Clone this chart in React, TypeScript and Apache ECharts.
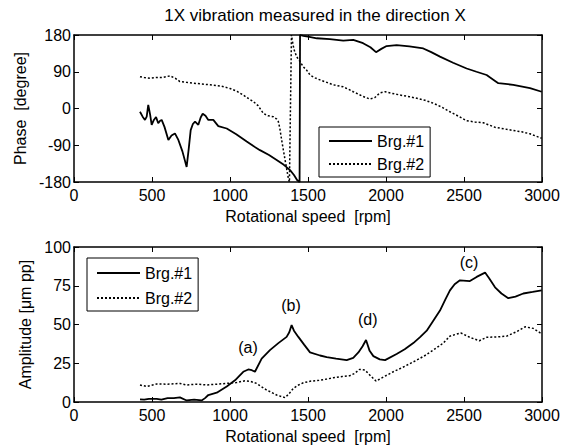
import React, { useEffect, useRef } from "react";
import * as echarts from "echarts";

const FONT = "'Liberation Sans', Arial, sans-serif";

const titleText = "1X vibration measured in the direction X";
const xName = "Rotational speed  [rpm]";
const phaseName = "Phase  [degree]";
const ampName = "Amplitude [μm pp]";
const seriesNames = ["Brg.#1", "Brg.#2"];

// Phase, Brg.#1
const phase1Rpm = [423, 440, 455, 466, 476, 488, 498, 512, 526, 540, 552, 562, 580, 605, 625, 647, 669, 695, 722, 735, 748, 762, 776, 797, 812, 825, 843, 861, 893, 925, 979, 1040, 1107, 1150, 1192, 1250, 1299, 1345, 1385, 1410, 1430, 1446, 1449, 1470, 1500, 1556, 1640, 1726, 1790, 1853, 1900, 1936, 1970, 2004, 2068, 2150, 2239, 2290, 2346, 2430, 2517, 2580, 2645, 2690, 2720, 2816, 2923, 2998];
const phase1Deg = [-8, -20, -28, -20, 9, -15, -40, -28, -21, -36, -30, -28, -45, -77, -66, -61, -77, -105, -143, -100, -53, -38, -32, -40, -22, -13, -18, -28, -28, -43, -49, -63, -81, -92, -102, -114, -126, -138, -151, -163, -175, -180, 180, 178, 176, 172, 170, 166, 168, 160, 150, 138, 146, 153, 155, 152, 147, 138, 127, 112, 98, 90, 82, 70, 62, 58, 50, 41];

// Phase, Brg.#2
const phase2Rpm = [423, 450, 487, 530, 570, 615, 650, 679, 720, 765, 820, 872, 940, 1000, 1045, 1085, 1120, 1150, 1180, 1214, 1245, 1278, 1300, 1310, 1320, 1331, 1353, 1374, 1381, 1394, 1400, 1410, 1427, 1449, 1470, 1491, 1513, 1545, 1577, 1620, 1662, 1726, 1760, 1790, 1850, 1897, 1929, 1960, 1994, 2040, 2090, 2150, 2197, 2250, 2303, 2360, 2410, 2470, 2517, 2570, 2624, 2699, 2760, 2816, 2870, 2923, 2998];
const phase2Deg = [78, 76, 74, 76, 76, 80, 74, 66, 64, 62, 60, 58, 55, 49, 42, 33, 24, 17, 7, -12, -18, -20, -26, -32, -50, -77, -126, -171, -180, 180, 165, 145, 127, 115, 102, 94, 82, 75, 70, 64, 58, 53, 47, 41, 30, 23, 27, 38, 41, 37, 33, 29, 25, 20, 13, 3, -8, -20, -30, -33, -35, -46, -50, -54, -57, -62, -73];

// Amplitude, Brg.#1
const amp1Rpm = [423, 450, 480, 530, 560, 600, 640, 679, 722, 770, 818, 840, 861, 915, 979, 1032, 1085, 1117, 1140, 1160, 1203, 1256, 1310, 1363, 1380, 1395, 1410, 1438, 1475, 1513, 1577, 1620, 1680, 1748, 1790, 1823, 1850, 1872, 1895, 1919, 1960, 1994, 2068, 2120, 2175, 2220, 2261, 2300, 2346, 2380, 2410, 2440, 2474, 2538, 2581, 2635, 2660, 2699, 2740, 2784, 2830, 2880, 2940, 2998];
const amp1Val = [1.7, 1.5, 2, 2, 1.5, 2.5, 2.5, 3, 1, 1.5, 1, 2.5, 4.5, 6, 10, 14, 19.5, 21, 20.5, 19.5, 28, 33.5, 38, 42, 45, 49.6, 46, 42, 37, 32, 30, 29, 28, 27, 28.5, 32, 36, 40, 33, 29.6, 27.5, 27, 31, 34, 38, 42, 46, 52, 59, 66, 72, 76, 78.5, 78, 80.7, 83.5, 80, 74, 70, 67, 68, 70, 71, 72];

// Amplitude, Brg.#2
const amp2Rpm = [423, 466, 530, 600, 679, 722, 790, 850, 920, 979, 1040, 1096, 1130, 1170, 1200, 1235, 1270, 1299, 1330, 1353, 1380, 1406, 1440, 1470, 1520, 1577, 1620, 1662, 1720, 1769, 1800, 1829, 1865, 1900, 1936, 1990, 2047, 2120, 2197, 2250, 2303, 2367, 2410, 2479, 2538, 2598, 2645, 2710, 2774, 2840, 2891, 2944, 2998];
const amp2Val = [11, 10, 11.6, 11.5, 12, 11, 11.5, 11, 11.5, 12, 12.5, 13.7, 13.3, 12, 10, 7.7, 6, 4.5, 3.5, 2.8, 5.5, 8.8, 11, 12.4, 13.5, 14, 14.8, 15.6, 16.5, 17, 18.5, 21, 20.6, 17, 13.5, 16.5, 19.5, 23, 27, 30, 33.5, 38, 42.5, 44.6, 41.7, 39.5, 41.7, 42, 42.5, 45.5, 48.5, 47.5, 44];

// Peak annotations on the amplitude plot
const noteLabels = ["(a)", "(b)", "(d)", "(c)"];
const noteRpm = [1115, 1391, 1883, 2532];
const noteAmp = [35, 62, 53, 90];

const zip = (xs: number[], ys: number[]) => xs.map((x, i) => [x, ys[i]]);

export default function App() {
  const ref = useRef<HTMLDivElement>(null);

  useEffect(() => {
    if (!ref.current) return;
    const chart = echarts.init(ref.current, null, { renderer: "svg" });

    const black = "#000";
    const textBase = { color: black, fontSize: 16, fontFamily: FONT };
    const plain = (v: number) => String(v);

    const mkX = (grid: number, pos: "bottom" | "top", labeled: boolean) => ({
      type: "value",
      gridIndex: grid,
      position: pos,
      min: 0,
      max: 3000,
      interval: 500,
      axisLine: { show: true, onZero: false, lineStyle: { color: black, width: 1.5 } },
      axisTick: { show: true, inside: true, length: 5, lineStyle: { color: black, width: 1 } },
      axisLabel: { show: labeled, margin: 5, formatter: plain, ...textBase },
      splitLine: { show: false },
      name: labeled ? xName : "",
      nameLocation: "middle",
      nameGap: 26,
      nameTextStyle: textBase,
    });

    const mkY = (
      grid: number,
      pos: "left" | "right",
      labeled: boolean,
      min: number,
      max: number,
      interval: number,
      name: string,
      gap: number
    ) => ({
      type: "value",
      gridIndex: grid,
      position: pos,
      min,
      max,
      interval,
      axisLine: { show: true, onZero: false, lineStyle: { color: black, width: 1.5 } },
      axisTick: { show: true, inside: true, length: 5, lineStyle: { color: black, width: 1 } },
      axisLabel: { show: labeled, margin: 3, formatter: plain, ...textBase },
      splitLine: { show: false },
      name: labeled ? name : "",
      nameLocation: "middle",
      nameGap: gap,
      nameTextStyle: textBase,
    });

    const solid = { color: black, width: 1.8, type: "solid" };
    const dotted = { color: black, width: 1.5, type: [2, 2] };

    const legendBase = {
      orient: "vertical",
      itemWidth: 43,
      itemHeight: 18,
      borderColor: black,
      borderWidth: 1,
      borderRadius: 0,
      backgroundColor: "#fff",
      textStyle: { ...textBase, lineHeight: 18 },
      itemStyle: { opacity: 0 },
      data: seriesNames,
      selectedMode: false,
    };

    chart.setOption({
      animation: false,
      backgroundColor: "#fff",
      graphic: [
        {
          type: "text",
          x: 315,
          y: 7,
          style: {
            text: titleText,
            fill: black,
            fontSize: 17,
            fontFamily: FONT,
            align: "center",
            verticalAlign: "top",
          },
        },
      ],
      grid: [
        { left: 74, top: 35, width: 468, height: 147 },
        { left: 74, top: 247, width: 468, height: 155 },
      ],
      xAxis: [mkX(0, "bottom", true), mkX(0, "top", false), mkX(1, "bottom", true), mkX(1, "top", false)],
      yAxis: [
        mkY(0, "left", true, -180, 180, 90, phaseName, 46),
        mkY(0, "right", false, -180, 180, 90, "", 0),
        mkY(1, "left", true, 0, 100, 25, ampName, 40),
        mkY(1, "right", false, 0, 100, 25, "", 0),
      ],
      legend: [
        { ...legendBase, left: 319, top: 127, itemGap: 5, padding: [5, 6, 4, 9] },
        { ...legendBase, left: 87, top: 258, itemGap: 7, padding: [6, 6, 4, 9] },
      ],
      series: [
        {
          type: "line",
          name: seriesNames[0],
          xAxisIndex: 0,
          yAxisIndex: 0,
          data: zip(phase1Rpm, phase1Deg),
          showSymbol: false,
          symbol: "none",
          lineStyle: solid,
          itemStyle: { color: black },
        },
        {
          type: "line",
          name: seriesNames[1],
          xAxisIndex: 0,
          yAxisIndex: 0,
          data: zip(phase2Rpm, phase2Deg),
          showSymbol: false,
          symbol: "none",
          lineStyle: dotted,
          itemStyle: { color: black },
        },
        {
          type: "line",
          name: seriesNames[0],
          xAxisIndex: 2,
          yAxisIndex: 2,
          data: zip(amp1Rpm, amp1Val),
          showSymbol: false,
          symbol: "none",
          lineStyle: solid,
          itemStyle: { color: black },
        },
        {
          type: "line",
          name: seriesNames[1],
          xAxisIndex: 2,
          yAxisIndex: 2,
          data: zip(amp2Rpm, amp2Val),
          showSymbol: false,
          symbol: "none",
          lineStyle: dotted,
          itemStyle: { color: black },
        },
        {
          type: "scatter",
          name: "notes",
          xAxisIndex: 2,
          yAxisIndex: 2,
          symbolSize: 1,
          itemStyle: { color: "rgba(0,0,0,0)", opacity: 1 },
          data: noteLabels.map((t, i) => ({ name: t, value: [noteRpm[i], noteAmp[i]] })),
          label: {
            show: true,
            position: "top",
            distance: 0,
            verticalAlign: "middle",
            formatter: "{b}",
            textBorderWidth: 0,
            ...textBase,
          },
          silent: true,
        },
      ],
    });

    return () => chart.dispose();
  }, []);

  return (
    <div
      ref={ref}
      style={{ position: "fixed", left: 0, top: 0, width: 570, height: 446, background: "#fff" }}
    />
  );
}
